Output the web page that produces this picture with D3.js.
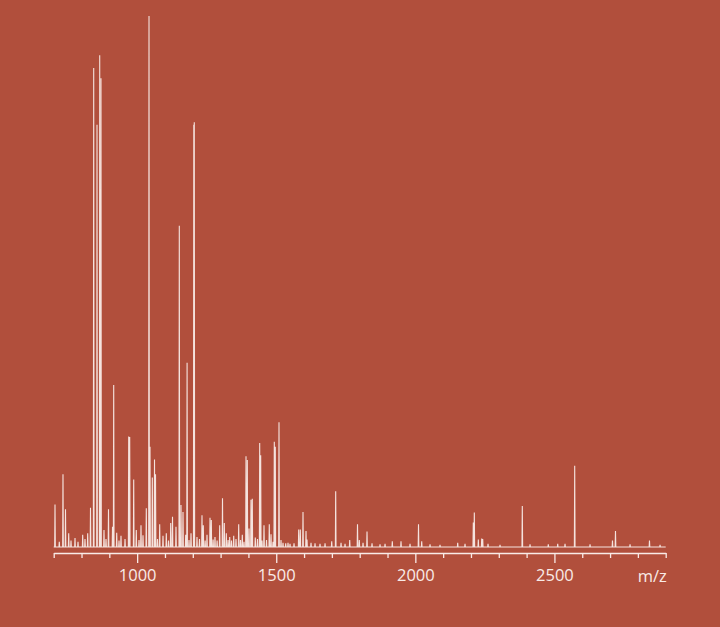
<!DOCTYPE html>
<html>
<head>
<meta charset="utf-8">
<script src="https://cdn.jsdelivr.net/npm/d3@7"></script>
<style>
  html, body { margin: 0; padding: 0; background: #b14f3c; }
  svg { display: block; }
</style>
</head>
<body>
<svg id="chart" width="720" height="627"></svg>
<script>
// m/z of each peak
const peakMz = [
  704.7, 733.4, 742.4, 753.9, 776.6, 804.2, 822.2, 832.3, 843.8, 855.7,
  865.4, 870.0, 880.8, 897.0, 911.4, 915.7, 926.5, 941.9, 969.6, 973.2,
  987.6, 996.9, 1013.8, 1021.0, 1032.9, 1042.6, 1046.2, 1054.5, 1062.4, 1066.0,
  1081.0, 1092.9, 1104.8, 1120.6, 1127.1, 1139.6, 1151.5, 1157.6, 1164.8, 1174.5,
  1179.5, 1193.6, 1203.6, 1205.4, 1215.1, 1233.1, 1237.8, 1251.1, 1261.9, 1266.6,
  1279.8, 1296.7, 1306.8, 1313.3, 1320.5, 1332.7, 1347.1, 1365.0, 1378.0, 1391.3,
  1396.0, 1402.1, 1409.3, 1413.9, 1424.7, 1440.5, 1444.1, 1456.0, 1475.0, 1481.2,
  1493.0, 1496.6, 1509.9, 1524.3, 1534.0, 1549.5, 1580.7, 1586.5, 1596.2, 1607.0,
  1610.6, 1657.3, 1699.4, 1713.7, 1764.1, 1792.1, 1798.6, 1826.3, 1873.0, 1917.2,
  1948.5, 2011.4, 2022.9, 2088.7, 2152.3, 2208.4, 2212.0, 2226.4, 2238.6, 2242.2,
  2304.4, 2384.5, 2478.0, 2511.8, 2572.9, 2708.7, 2719.5, 2841.7,
  // small noise peaks
  720.1, 762.2, 787.4, 812.5, 888.0, 934.8, 956.4, 1006.7, 1073.1, 1112.7,
  1186.4, 1224.1, 1244.4, 1273.0, 1287.4, 1326.9, 1339.2, 1355.3, 1371.5, 1384.1,
  1432.6, 1448.8, 1465.0, 1488.4, 1517.1, 1542.3, 1563.9, 1625.0, 1639.4, 1675.4,
  1732.9, 1747.3, 1812.0, 1844.3, 1891.1, 1980.9, 2052.8, 2178.6, 2261.3, 2412.3,
  2538.1, 2628.0, 2771.8, 2879.7
];
// relative intensity (%) of each peak
const peakIntensity = [
  8.0, 13.7, 7.1, 2.6, 1.7, 2.3, 2.6, 7.4, 90.2, 79.5,
  92.6, 88.3, 3.2, 7.1, 3.8, 30.5, 2.7, 2.1, 20.8, 20.7,
  12.7, 3.2, 4.1, 2.2, 7.3, 100, 18.9, 13.1, 16.5, 13.7,
  4.3, 2.1, 2.6, 4.5, 5.7, 3.8, 60.5, 7.9, 6.6, 2.3,
  34.7, 2.6, 79.5, 80.0, 1.9, 6.0, 4.1, 2.3, 5.5, 5.1,
  1.9, 4.1, 9.2, 4.5, 2.6, 1.9, 2.1, 4.3, 2.3, 17.1,
  16.4, 3.5, 8.9, 9.1, 1.8, 19.6, 17.3, 4.1, 4.3, 2.4,
  19.8, 18.9, 23.5, 0.8, 0.7, 0.6, 3.3, 3.3, 6.6, 3.0,
  1.4, 0.6, 1.1, 10.5, 1.3, 4.3, 1.3, 2.9, 0.5, 1.1,
  1.1, 4.3, 1.1, 0.4, 0.8, 4.6, 6.5, 1.4, 1.6, 1.5,
  0.4, 7.7, 0.5, 0.6, 15.3, 1.2, 3.0, 1.2,
  1.0, 1.2, 1.0, 1.5, 1.5, 1.2, 1.5, 1.3, 1.5, 1.2,
  1.3, 1.5, 1.2, 1.4, 1.2, 1.3, 1.2, 1.5, 1.3, 1.0,
  1.5, 1.2, 1.3, 1.0, 1.3, 0.8, 0.7, 0.8, 0.7, 0.7,
  0.8, 0.6, 0.8, 0.7, 0.6, 0.6, 0.5, 0.6, 0.6, 0.5,
  0.6, 0.5, 0.5, 0.4
];
const mzDomain = [700, 2900];
const minorTicks = [700, 800, 900, 1100, 1200, 1300, 1400, 1600, 1700, 1800, 1900,
                    2100, 2200, 2300, 2400, 2600, 2700, 2800, 2900];
const majorTicks = [1000, 1500, 2000, 2500];
const axisTitle = "m/z";

const svg = d3.select("#chart");
const fg = "#f9ebe7";

const x = d3.scaleLinear().domain(mzDomain).range([53.7, 665.7]);
const y = d3.scaleLinear().domain([0, 100]).range([547, 16]);

// build spectrum polyline: baseline -> apex -> baseline for each peak
const peaks = peakMz.map((m, i) => ({ mz: m, v: peakIntensity[i] }))
  .sort((a, b) => a.mz - b.mz);
const halfW = 1.2;
const pts = [{ mz: mzDomain[0], v: 0 }];
peaks.forEach(p => {
  pts.push({ mz: p.mz - halfW, v: 0 });
  pts.push({ mz: p.mz, v: p.v });
  pts.push({ mz: p.mz + halfW, v: 0 });
});
pts.push({ mz: mzDomain[1], v: 0 });

const line = d3.line().x(d => x(d.mz)).y(d => y(d.v));
svg.append("path")
  .datum(pts)
  .attr("d", line)
  .attr("fill", "none")
  .attr("stroke", fg)
  .attr("stroke-width", 1.1)
  .attr("stroke-linejoin", "miter")
  .attr("stroke-opacity", 0.95);

// axis
const axisY = 553;
const gMinor = svg.append("g").attr("transform", `translate(0,${axisY})`)
  .call(d3.axisBottom(x).tickValues(minorTicks).tickSize(5).tickSizeOuter(0).tickFormat(""));
const gMajor = svg.append("g").attr("transform", `translate(0,${axisY})`)
  .call(d3.axisBottom(x).tickValues(majorTicks).tickSize(10).tickSizeOuter(0).tickPadding(6)
    .tickFormat(d3.format("d")));
[gMinor, gMajor].forEach(g => {
  g.selectAll("path.domain").attr("stroke", fg).attr("stroke-width", 1.6);
  g.selectAll(".tick line").attr("stroke", fg).attr("stroke-width", 1.3);
  g.selectAll(".tick text")
    .attr("fill", fg)
    .style("font-family", "'Open Sans', 'Noto Sans', sans-serif")
    .style("font-size", "16.5px");
});
gMinor.select("path.domain").remove();

svg.append("text")
  .attr("x", x(mzDomain[1]) + 1)
  .attr("y", 581.5)
  .attr("text-anchor", "end")
  .attr("fill", fg)
  .style("font-family", "'Open Sans', 'Noto Sans', sans-serif")
  .style("font-size", "16.5px")
  .text(axisTitle);
</script>
</body>
</html>
